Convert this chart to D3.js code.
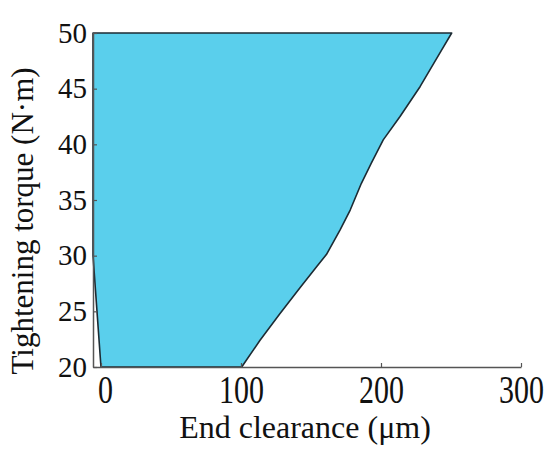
<!DOCTYPE html>
<html>
<head>
<meta charset="utf-8">
<script src="https://cdn.jsdelivr.net/npm/d3@7"></script>
<style>
  body { margin: 0; background: #fff; }
  .text { font-family: "Liberation Serif", "Times New Roman", serif; fill: #111; }
</style>
</head>
<body>
<div id="chart"></div>
<script>
// Right boundary of the region (torque vs max clearance)
const torque = [20, 22.4, 24.8, 27.1, 29, 30.1, 32.3, 34.1, 36.5, 38.3, 40.4, 42.5, 45.2, 48.2, 50];
const clearanceMax = [100.5, 113.6, 127.9, 142, 154, 161, 170.7, 178, 186, 193, 201.6, 213.6, 228, 242, 250.5];
// Left boundary (top to bottom)
const torqueLeft = [50, 30, 20];
const clearanceMin = [-5.7, -5.7, 0];

const xTicks = [0, 100, 200, 300];
const yTicks = [20, 25, 30, 35, 40, 45, 50];

const width = 550, height = 450;
const margins = { top: 33, right: 29, bottom: 83, left: 93 };
const bordWidth = width - margins.left - margins.right;
const bordHeight = height - margins.top - margins.bottom;

const svg = d3.select("#chart").append("svg")
    .attr("width", width)
    .attr("height", height);

const borders = svg.append("g")
    .attr("transform", `translate(${margins.left},${margins.top})`);

const xScale = d3.scaleLinear().domain([-5.7, 300]).range([0, bordWidth]);
const yScale = d3.scaleLinear().domain([20, 50]).range([bordHeight, 0]);

// polygon: top-left corner, down the right edge, then back up the left edge
const rightPts = torque.map((t, i) => [clearanceMax[i], t]).reverse();
const leftPts = torqueLeft.map((t, i) => [clearanceMin[i], t]).reverse();
const poly = [[clearanceMin[0], torqueLeft[0]], ...rightPts, ...leftPts];

const line = d3.line()
    .x(d => xScale(d[0]))
    .y(d => yScale(d[1]))
    .curve(d3.curveLinearClosed);

borders.append("path")
    .attr("d", line(poly))
    .attr("fill", "#5acfec")
    .attr("stroke", "#1d2b33")
    .attr("stroke-width", 1.6)
    .attr("stroke-linejoin", "round");

// Axes (ticks point inward)
const xAxis = borders.append("g")
    .attr("transform", `translate(0,${bordHeight})`)
    .call(d3.axisBottom(xScale).tickValues(xTicks).tickSizeInner(-4).tickSizeOuter(0));

const yAxis = borders.append("g")
    .call(d3.axisLeft(yScale).tickValues(yTicks).tickSizeInner(-4).tickSizeOuter(0).tickPadding(6));

[xAxis, yAxis].forEach(ax => {
    ax.select(".domain").attr("stroke", "#555").attr("stroke-width", 1.5);
    ax.selectAll(".tick line").attr("stroke", "#555").attr("stroke-width", 1.2);
});

yAxis.selectAll(".tick text")
    .attr("class", "text")
    .style("font-size", "29px")
    .attr("font-family", null);

// x tick labels are drawn taller than wide in the original
xAxis.selectAll(".tick text")
    .attr("class", "text")
    .style("font-size", "30px")
    .attr("font-family", null)
    .attr("x", d => d === 0 ? 4 : 0)
    .attr("y", 28)
    .attr("dy", 0)
    .attr("transform", "scale(1,1.3)");

// Axis labels
svg.append("text")
    .attr("class", "text")
    .attr("x", 305)
    .attr("y", 438)
    .attr("text-anchor", "middle")
    .style("font-size", "32px")
    .text("End clearance (μm)");

svg.append("text")
    .attr("class", "text")
    .attr("transform", "translate(33,221) rotate(-90)")
    .attr("text-anchor", "middle")
    .style("font-size", "31px")
    .text("Tightening torque (N·m)");
</script>
</body>
</html>
